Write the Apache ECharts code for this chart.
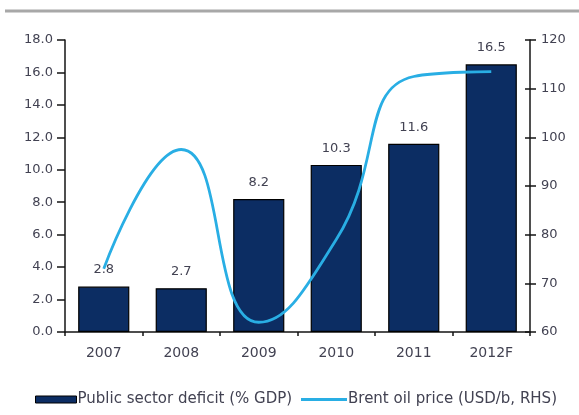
<!DOCTYPE html>
<html><head><meta charset="utf-8">
<script src="https://cdn.jsdelivr.net/npm/echarts@6/dist/echarts.min.js"></script>
<style>html,body{margin:0;padding:0;background:#fff}#c{width:579px;height:415px}</style>
</head><body><div id="c"></div>
<script>
const categories = ['2007','2008','2009','2010','2011','2012F'];
const deficit = [2.8, 2.7, 8.2, 10.3, 11.6, 16.5];
const brent = [73, 97.5, 62, 79, 112.5, 113.5];
const leftTicks = {min:0, max:18, interval:2};
const rightTicks = {min:60, max:120, interval:10};
const seriesNames = ['Public sector deficit (% GDP)', 'Brent oil price (USD/b, RHS)'];

const font = 'DejaVu Sans';
const txt = '#424252';
const axisColor = '#151515';
const chart = echarts.init(document.getElementById('c'));
const legendText = {fontFamily:font, fontSize:15, color:txt, padding:[0,0,0,-4]};
chart.setOption({
  animation:false,
  textStyle:{fontFamily:font},
  graphic:[{type:'line', shape:{x1:5,y1:11,x2:579,y2:11}, style:{stroke:'#a8a8a8', lineWidth:3}}],
  grid:{left:65, right:49, top:40, bottom:83},
  legend:[
   {left:35, top:392, padding:0, itemWidth:41, itemHeight:7, icon:'rect',
    textStyle:legendText,
    data:[{name:seriesNames[0], itemStyle:{borderColor:'#000', borderWidth:1}}]},
   {left:301, top:392, padding:0, itemWidth:46, itemHeight:3, icon:'rect',
    textStyle:legendText,
    data:[{name:seriesNames[1], itemStyle:{color:'#29aee4'}}]}
  ],
  xAxis:{type:'category', data:categories,
    axisLine:{lineStyle:{color:axisColor, width:1.5}},
    axisTick:{show:true, length:4, lineStyle:{color:axisColor, width:1.5}},
    axisLabel:{color:txt, fontSize:14, margin:14}},
  yAxis:[{type:'value', position:'left', ...leftTicks, splitLine:{show:false},
    axisLine:{show:true, lineStyle:{color:axisColor, width:1.5}},
    axisTick:{show:true, length:8, lineStyle:{color:axisColor, width:1.5}},
    axisLabel:{color:txt, fontSize:13, margin:12, formatter:v=>v.toFixed(1)}},
   {type:'value', position:'right', ...rightTicks, splitLine:{show:false},
    axisLine:{show:true, lineStyle:{color:axisColor, width:1.5}},
    axisTick:{show:true, length:6, lineStyle:{color:axisColor, width:1.5}},
    axisLabel:{color:txt, fontSize:13, margin:11}},
   {type:'value', position:'right', ...rightTicks, splitLine:{show:false},
    axisLine:{show:false},
    axisTick:{show:true, inside:true, length:5, lineStyle:{color:axisColor, width:1.5}},
    axisLabel:{show:false}}],
  series:[{name:seriesNames[0], type:'bar', data:deficit, barWidth:'66%',
    itemStyle:{color:'#0c2d63', borderColor:'#000', borderWidth:1.2},
    label:{show:true, position:'top', distance:10, color:txt, fontSize:13, formatter:p=>p.value.toFixed(1)}},
   {name:seriesNames[1], type:'line', yAxisIndex:1, data:brent, smooth:0.5, symbol:'none',
    lineStyle:{color:'#29aee4', width:2.8}, itemStyle:{color:'#29aee4'}}]
});
</script></body></html>
